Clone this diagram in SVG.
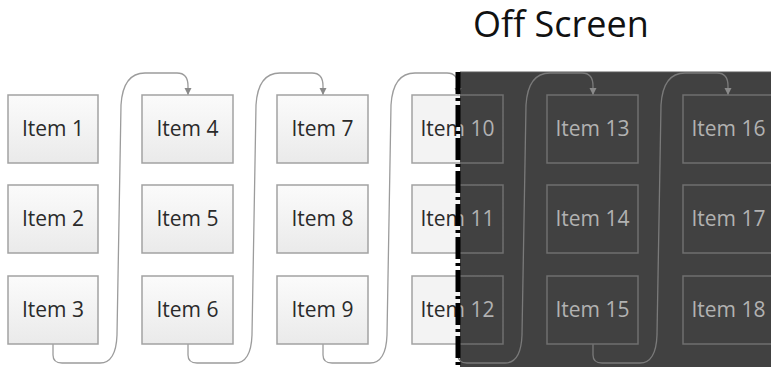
<svg xmlns="http://www.w3.org/2000/svg" width="771" height="367" viewBox="0 0 771 367">
<defs>
<style>
.box{fill:url(#lg);stroke:#a2a2a2;stroke-width:1.5}
.dbox{fill:#414141;stroke:#6f6f6f;stroke-width:1.5}
.sbox{fill:url(#sf);stroke:url(#ss);stroke-width:1.5}
.t{font-family:"Open Sans","Noto Sans",sans-serif;font-size:21px;text-anchor:middle;fill:#2a2a2a}
.dt{fill:#b2b2b2}
.st{fill:url(#stx)}
.c{fill:none;stroke:#9c9c9c;stroke-width:1.3;marker-end:url(#a)}
.dc{fill:none;stroke:#7a7a7a;stroke-width:1.3;marker-end:url(#ad)}
</style>
<linearGradient id="lg" x1="0" y1="0" x2="0" y2="1"><stop offset="0" stop-color="#fbfbfb"/><stop offset="1" stop-color="#eaeaea"/></linearGradient>
<linearGradient id="sf" gradientUnits="userSpaceOnUse" x1="0" y1="0" x2="771" y2="0"><stop offset="0.5966" stop-color="#f3f3f3"/><stop offset="0.5966" stop-color="#414141"/></linearGradient>
<linearGradient id="ss" gradientUnits="userSpaceOnUse" x1="0" y1="0" x2="771" y2="0"><stop offset="0.5966" stop-color="#a2a2a2"/><stop offset="0.5966" stop-color="#6f6f6f"/></linearGradient>
<linearGradient id="stx" gradientUnits="userSpaceOnUse" x1="0" y1="0" x2="771" y2="0"><stop offset="0.5966" stop-color="#2a2a2a"/><stop offset="0.5966" stop-color="#b2b2b2"/></linearGradient>
<marker id="a" markerUnits="userSpaceOnUse" markerWidth="8" markerHeight="8" refX="7" refY="3.5" orient="auto"><path d="M0,0 L7,3.5 L0,7 z" fill="#8a8a8a"/></marker>
<marker id="ad" markerUnits="userSpaceOnUse" markerWidth="8" markerHeight="8" refX="7" refY="3.5" orient="auto"><path d="M0,0 L7,3.5 L0,7 z" fill="#8a8a8a"/></marker>
</defs>
<rect width="771" height="367" fill="#ffffff"/>
<rect id="offscreen-area" x="460" y="72" width="311" height="295" fill="#414141"/>
<line x1="460" y1="72" x2="771" y2="72" stroke="#5a5a5a" stroke-width="1"/>
<text x="473" y="37" font-family="'Open Sans','Noto Sans',sans-serif" font-size="36" fill="#111">Off Screen</text>
<g id="connectors">
<path class="c" d="M53,343 V355 Q53,363 62,363 H100 Q116,363 117,335 L121,105 Q123,73 145,73 H177 Q188,73 188,86 V95"/>
<path class="c" d="M188,343 V355 Q188,363 197,363 H235 Q251,363 252,335 L256,105 Q258,73 280,73 H312 Q323,73 323,86 V95"/>
<path class="c" d="M323,343 V355 Q323,363 332,363 H370 Q386,363 387,335 L391,105 Q393,73 415,73 H447 Q458,73 458,86 V95"/>
<path class="dc" d="M458,343 V355 Q458,363 467,363 H505 Q521,363 522,335 L526,105 Q528,73 550,73 H582 Q593,73 593,86 V95"/>
<path class="dc" d="M593,343 V355 Q593,363 602,363 H640 Q656,363 657,335 L661,105 Q663,73 685,73 H717 Q728,73 728,86 V95"/>
</g>
<g id="item1"><rect class="box" x="8" y="95" width="90" height="68"/><text class="t" x="53" y="136">Item 1</text></g>
<g id="item2"><rect class="box" x="8" y="185" width="90" height="68"/><text class="t" x="53" y="226">Item 2</text></g>
<g id="item3"><rect class="box" x="8" y="276" width="90" height="68"/><text class="t" x="53" y="317">Item 3</text></g>
<g id="item4"><rect class="box" x="142" y="95" width="91" height="68"/><text class="t" x="187.5" y="136">Item 4</text></g>
<g id="item5"><rect class="box" x="142" y="185" width="91" height="68"/><text class="t" x="187.5" y="226">Item 5</text></g>
<g id="item6"><rect class="box" x="142" y="276" width="91" height="68"/><text class="t" x="187.5" y="317">Item 6</text></g>
<g id="item7"><rect class="box" x="277" y="95" width="91" height="68"/><text class="t" x="322.5" y="136">Item 7</text></g>
<g id="item8"><rect class="box" x="277" y="185" width="91" height="68"/><text class="t" x="322.5" y="226">Item 8</text></g>
<g id="item9"><rect class="box" x="277" y="276" width="91" height="68"/><text class="t" x="322.5" y="317">Item 9</text></g>
<g id="item10"><rect class="sbox" x="412" y="95" width="91" height="68"/><text class="t st" x="457.5" y="136">Item 10</text></g>
<g id="item11"><rect class="sbox" x="412" y="185" width="91" height="68"/><text class="t st" x="457.5" y="226">Item 11</text></g>
<g id="item12"><rect class="sbox" x="412" y="276" width="91" height="68"/><text class="t st" x="457.5" y="317">Item 12</text></g>
<g id="item13"><rect class="dbox" x="547" y="95" width="91" height="68"/><text class="t dt" x="592.5" y="136">Item 13</text></g>
<g id="item14"><rect class="dbox" x="547" y="185" width="91" height="68"/><text class="t dt" x="592.5" y="226">Item 14</text></g>
<g id="item15"><rect class="dbox" x="547" y="276" width="91" height="68"/><text class="t dt" x="592.5" y="317">Item 15</text></g>
<g id="item16"><rect class="dbox" x="683" y="95" width="91" height="68"/><text class="t dt" x="728.5" y="136">Item 16</text></g>
<g id="item17"><rect class="dbox" x="683" y="185" width="91" height="68"/><text class="t dt" x="728.5" y="226">Item 17</text></g>
<g id="item18"><rect class="dbox" x="683" y="276" width="91" height="68"/><text class="t dt" x="728.5" y="317">Item 18</text></g>
<line id="screen-edge" x1="458" y1="72" x2="458" y2="367" stroke="#000" stroke-width="5" stroke-dasharray="22 4 3 4"/>
</svg>
